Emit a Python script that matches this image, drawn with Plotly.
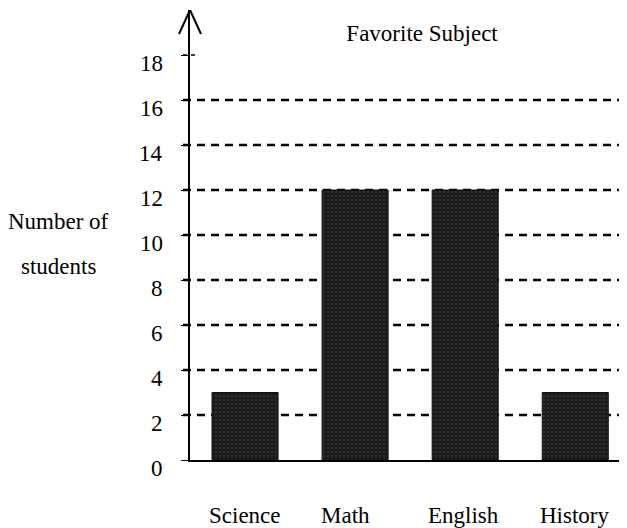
import plotly.graph_objects as go

categories = ["Science", "Math", "English", "History"]
students = [3, 12, 12, 3]
y_ticks = [0, 2, 4, 6, 8, 10, 12, 14, 16, 18]
grid_values = [2, 4, 6, 8, 10, 12, 14, 16]
label_shift = {"Science": 0, "Math": -10, "English": -2, "History": 0}

FONT = "Liberation Serif, Times New Roman, serif"
FS = 23

fig = go.Figure()
fig.add_trace(go.Bar(
    x=list(range(len(categories))), y=students, width=0.6,
    marker=dict(color="#222222", line=dict(color="#111111", width=1),
                pattern=dict(shape=".", fgcolor="#6a6a6a", bgcolor="#1c1c1c", size=4, solidity=0.15)),
    hoverinfo="skip", showlegend=False,
))

shapes = []
for v in grid_values:
    shapes.append(dict(type="line", xref="paper", yref="y", x0=-0.016, x1=1.0, y0=v, y1=v,
                       line=dict(color="black", width=2.5, dash="8px,6px"), layer="below"))
# short dash at the top tick
shapes.append(dict(type="line", xref="paper", yref="y", x0=-0.016, x1=0.018, y0=y_ticks[-1], y1=y_ticks[-1],
                   line=dict(color="black", width=1.5, dash="4px,4px"), layer="below"))
# arrow head on the y axis
shapes.append(dict(type="path", xref="paper", yref="y", xsizemode="pixel", ysizemode="pixel",
                   xanchor=0, yanchor=20, path="M -11,-24 L 0,0 L 11,-24",
                   line=dict(color="black", width=2)))

annotations = []
for t in y_ticks:
    annotations.append(dict(x=0, y=t, xref="paper", yref="y", text=str(t), showarrow=False,
                            xanchor="right", yanchor="middle", xshift=-25, yshift=-8,
                            font=dict(family=FONT, size=FS, color="black")))
for i, c in enumerate(categories):
    annotations.append(dict(x=i, y=0, xref="x", yref="y", text=c, showarrow=False,
                            xanchor="center", yanchor="middle",
                            yshift=-55, xshift=label_shift[c], font=dict(family=FONT, size=FS, color="black")))
annotations.append(dict(x=-0.300, y=0.529, xref="paper", yref="paper", text="Number of", showarrow=False,
                        xanchor="center", yanchor="middle", font=dict(family=FONT, size=FS, color="black")))
annotations.append(dict(x=-0.300, y=0.429, xref="paper", yref="paper", text="students", showarrow=False,
                        xanchor="center", yanchor="middle", font=dict(family=FONT, size=FS, color="black")))

fig.update_layout(
    width=619, height=520,
    margin=dict(l=182, r=0, t=2, b=68),
    paper_bgcolor="white", plot_bgcolor="white",
    title=dict(text="Favorite Subject", xref="paper", x=0.531, xanchor="center",
               yref="container", y=1 - 25 / 520, yanchor="middle",
               font=dict(family=FONT, size=FS, color="black")),
    xaxis=dict(range=[-0.5, 3.47], showline=True, linecolor="black", linewidth=2,
               showticklabels=False, ticks="", showgrid=False, zeroline=False),
    yaxis=dict(range=[0, 20], showline=True, linecolor="black", linewidth=2,
               tickvals=y_ticks, showticklabels=False,
               ticks="outside", ticklen=7, tickcolor="black", tickwidth=1,
               showgrid=False, zeroline=False),
    shapes=shapes, annotations=annotations,
)

fig.write_html("out.html")
